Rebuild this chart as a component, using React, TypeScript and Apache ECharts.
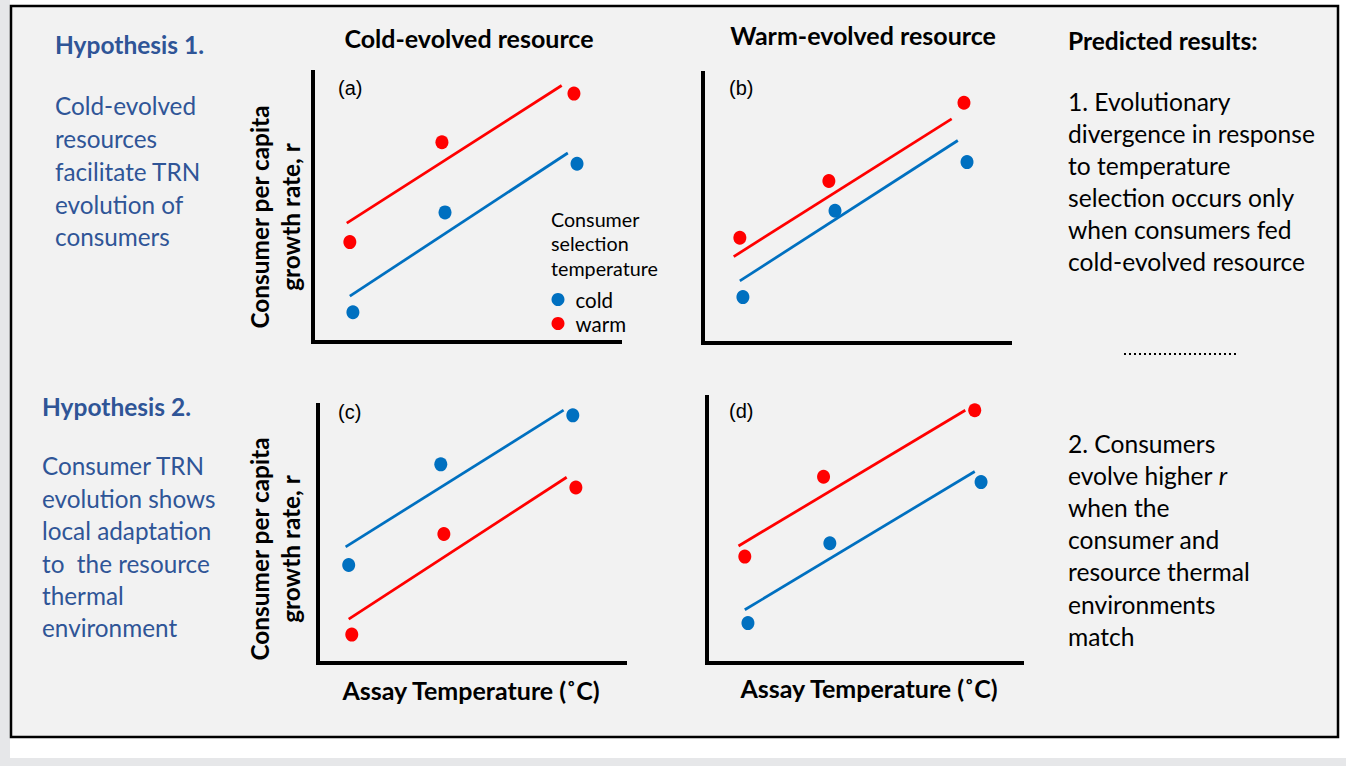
import React, { useEffect, useRef } from "react";
import * as echarts from "echarts";

// Values: [assay temperature position, consumer r] (arbitrary units 0-10)
const coldA = [[1.3, 1.1], [4.3, 4.8], [8.6, 6.6]];
const warmA = [[1.2, 3.7], [4.2, 7.4], [8.5, 9.2]];
const coldFitA = [[1.2, 1.7], [8.3, 7.0]];
const warmFitA = [[1.1, 4.4], [8.1, 9.5]];

const coldB = [[1.3, 1.7], [4.3, 4.9], [8.6, 6.7]];
const warmB = [[1.2, 3.9], [4.1, 6.0], [8.5, 8.9]];
const coldFitB = [[1.2, 2.3], [8.3, 7.5]];
const warmFitB = [[1.0, 3.2], [8.1, 8.3]];

const coldC = [[1.0, 3.8], [4.0, 7.7], [8.3, 9.6]];
const warmC = [[1.1, 1.1], [4.1, 5.0], [8.4, 6.8]];
const coldFitC = [[0.9, 4.5], [8.0, 9.8]];
const warmFitC = [[1.0, 1.7], [8.1, 7.2]];

const coldD = [[1.3, 1.5], [3.9, 4.5], [8.7, 6.8]];
const warmD = [[1.2, 4.0], [3.7, 7.0], [8.5, 9.5]];
const coldFitD = [[1.2, 2.0], [8.5, 7.2]];
const warmFitD = [[1.0, 4.4], [8.2, 9.5]];

const panelLabels = ["(a)", "(b)", "(c)", "(d)"];
const legendNames = ["cold", "warm"];
const columnTitles = ["Cold-evolved resource", "Warm-evolved resource"];
const yAxisTitle = "Consumer per capita\ngrowth rate, r";
const xAxisTitle = "Assay Temperature (˚C)";

const panelData = [
  { cold: coldA, warm: warmA, coldFit: coldFitA, warmFit: warmFitA },
  { cold: coldB, warm: warmB, coldFit: coldFitB, warmFit: warmFitB },
  { cold: coldC, warm: warmC, coldFit: coldFitC, warmFit: warmFitC },
  { cold: coldD, warm: warmD, coldFit: coldFitD, warmFit: warmFitD },
];

const BLUE = "#0070c0";
const RED = "#ff0000";
const HYP = "#2f5597";
const FONT = "Lato, 'Noto Sans', sans-serif";
const ARIAL = "'Liberation Sans', Arial, sans-serif";

const grids = [
  { left: 313, top: 72, width: 307, height: 270 },
  { left: 703, top: 73, width: 307, height: 270 },
  { left: 318, top: 405, width: 307, height: 258 },
  { left: 707, top: 397, width: 315, height: 266 },
];

export default function App() {
  const ref = useRef<HTMLDivElement>(null);
  useEffect(() => {
    if (!ref.current) return;
    const chart = echarts.init(ref.current, null, { renderer: "svg" });

    const axisCommon = (i: number) => ({
      type: "value",
      gridIndex: i,
      min: 0,
      max: 10,
      z: 10,
      axisLine: { show: true, onZero: false, lineStyle: { color: "#000", width: 4, cap: "square" } },
      axisTick: { show: false },
      axisLabel: { show: false },
      splitLine: { show: false },
    });
    const xAxes = grids.map((_, i) => axisCommon(i));
    const yAxes = grids.map((_, i) => axisCommon(i));

    const series: any[] = [];
    panelData.forEach((p, i) => {
      series.push({
        type: "line", name: "cold fit", xAxisIndex: i, yAxisIndex: i, data: p.coldFit,
        showSymbol: false, symbol: "none", lineStyle: { color: BLUE, width: 2.75 }, z: 3,
      });
      series.push({
        type: "line", name: "warm fit", xAxisIndex: i, yAxisIndex: i, data: p.warmFit,
        showSymbol: false, symbol: "none", lineStyle: { color: RED, width: 2.75 }, z: 3,
      });
      series.push({
        type: "scatter", name: "cold", xAxisIndex: i, yAxisIndex: i, data: p.cold,
        symbol: "circle", symbolSize: [13, 14], itemStyle: { color: BLUE, opacity: 1 }, z: 4,
      });
      series.push({
        type: "scatter", name: "warm", xAxisIndex: i, yAxisIndex: i, data: p.warm,
        symbol: "circle", symbolSize: [13, 14], itemStyle: { color: RED, opacity: 1 }, z: 4,
      });
    });

    const txt = (x: number, y: number, text: string, opts: any = {}) => ({
      type: "text",
      x,
      y,
      rotation: opts.rotation || 0,
      style: {
        text,
        fill: opts.fill || "#000",
        fontFamily: opts.fontFamily || FONT,
        fontSize: opts.fontSize || 24,
        fontWeight: opts.fontWeight || "normal",
        lineHeight: opts.lineHeight,
        textAlign: opts.align || "left",
        textVerticalAlign: opts.valign || "top",
        verticalAlign: opts.valign || "top",
        rich: opts.rich,
      },
    });

    const graphic: any[] = [
      { type: "rect", z: -10, shape: { x: 10, y: 0, width: 1336, height: 758 }, style: { fill: "#ffffff" } },
      { type: "rect", z: -9, shape: { x: 11, y: 6, width: 1327, height: 731 }, style: { fill: "#f2f2f2", stroke: "#000", lineWidth: 2.5 } },
      // left hypotheses
      txt(55, 44, "Hypothesis 1.", { fill: HYP, fontWeight: "bold", fontSize: 24.5, valign: "middle" }),
      txt(55, 89.6, "Cold-evolved\nresources\nfacilitate TRN\nevolution of\nconsumers", { fill: HYP, fontSize: 24.3, lineHeight: 32.75 }),
      txt(42, 406, "Hypothesis 2.", { fill: HYP, fontWeight: "bold", fontSize: 24.5, valign: "middle" }),
      txt(42, 449.8, "Consumer TRN\nevolution shows\nlocal adaptation\nto  the resource\nthermal\nenvironment", { fill: HYP, fontSize: 24.3, lineHeight: 32.4 }),
      // column titles
      txt(469, 38, columnTitles[0], { fontWeight: "bold", fontSize: 25, align: "center", valign: "middle" }),
      txt(863, 35, columnTitles[1], { fontWeight: "bold", fontSize: 25, align: "center", valign: "middle" }),
      // right column
      txt(1068, 40, "Predicted results:", { fontWeight: "bold", fontSize: 24.5, valign: "middle" }),
      txt(1068, 85, "1. Evolutionary\ndivergence in response\nto temperature\nselection occurs only\nwhen consumers fed\ncold-evolved resource", { fontSize: 24.6, lineHeight: 32 }),
      {
        type: "line",
        shape: { x1: 1124, y1: 354, x2: 1238, y2: 354 },
        style: { stroke: "#000", lineWidth: 2.2, lineDash: [2, 3] },
      },
      {
        type: "text",
        x: 1068,
        y: 427,
        style: {
          text: "2. Consumers\nevolve higher {i|r}\nwhen the\nconsumer and\nresource thermal\nenvironments\nmatch",
          fill: "#000",
          fontFamily: FONT,
          fontSize: 24.6,
          lineHeight: 32.2,
          textVerticalAlign: "top",
          verticalAlign: "top",
          rich: { i: { fontStyle: "italic", fontFamily: FONT, fontSize: 24.6, fill: "#000", lineHeight: 32.2 } },
        },
      },
      // y axis titles
      txt(275, 217, yAxisTitle, { fontWeight: "bold", fontSize: 24.4, rotation: Math.PI / 2, align: "center", valign: "middle", lineHeight: 31.5 }),
      txt(275, 549, yAxisTitle, { fontWeight: "bold", fontSize: 24.4, rotation: Math.PI / 2, align: "center", valign: "middle", lineHeight: 31.5 }),
      // x axis titles
      txt(471, 690, xAxisTitle, { fontWeight: "bold", fontSize: 25, align: "center", valign: "middle" }),
      txt(869, 688, xAxisTitle, { fontWeight: "bold", fontSize: 25, align: "center", valign: "middle" }),
      // panel letters
      txt(338, 88, panelLabels[0], { fontFamily: ARIAL, fontSize: 20, valign: "middle" }),
      txt(729, 88, panelLabels[1], { fontFamily: ARIAL, fontSize: 20, valign: "middle" }),
      txt(338, 412, panelLabels[2], { fontFamily: ARIAL, fontSize: 20, valign: "middle" }),
      txt(729, 411, panelLabels[3], { fontFamily: ARIAL, fontSize: 20, valign: "middle" }),
      // legend title
      txt(551, 206.75, "Consumer\nselection\ntemperature", { fontSize: 19.7, lineHeight: 24.5 }),
    ];

    chart.setOption({
      animation: false,
      backgroundColor: "#e6e7e9",
      grid: grids.map((g) => ({ ...g, containLabel: false, outerBoundsMode: "none" })),
      xAxis: xAxes,
      yAxis: yAxes,
      legend: {
        data: legendNames,
        orient: "vertical",
        left: 551.5,
        top: 289,
        padding: 0,
        itemWidth: 13,
        itemHeight: 14,
        itemGap: 3,
        icon: "circle",
        selectedMode: false,
        textStyle: { fontFamily: FONT, fontSize: 20.5, color: "#000", padding: [0, 0, 0, 6] },
      },
      series,
      graphic,
    });
    return () => chart.dispose();
  }, []);
  return <div ref={ref} style={{ position: "fixed", left: 0, top: 0, width: 1346, height: 766 }} />;
}
